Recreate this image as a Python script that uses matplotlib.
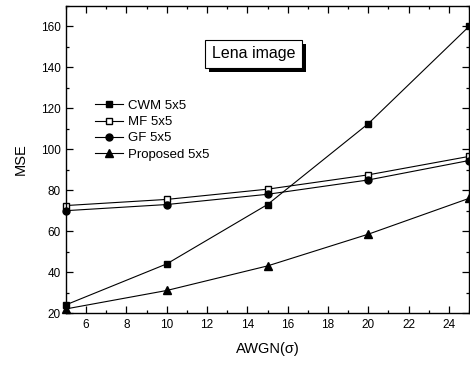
import matplotlib.pyplot as plt
from matplotlib.ticker import MultipleLocator
import matplotlib.patheffects as pe

plt.rcParams['font.family'] = ['Liberation Sans', 'DejaVu Sans']

# 데이터
sigma = [5, 10, 15, 20, 25]
cwm = [24, 44, 73, 112.5, 160]
mf = [72.5, 75.5, 80.5, 87.5, 96.5]
gf = [70, 73, 78, 85, 94.5]
proposed = [22, 31, 43, 58.5, 76]

fig = plt.figure(figsize=(4.7, 3.65), dpi=100)
ax = fig.add_axes([66/470, 1-313/365, (469-66)/470, (313-6)/365])

ax.plot(sigma, cwm, color='black', lw=0.8, marker='s', ms=5, mfc='black', label='CWM 5x5', clip_on=False)
ax.plot(sigma, mf, color='black', lw=0.8, marker='s', ms=5, mfc='white', label='MF 5x5', clip_on=False)
ax.plot(sigma, gf, color='black', lw=0.8, marker='o', ms=5, mfc='black', label='GF 5x5', clip_on=False)
ax.plot(sigma, proposed, color='black', lw=0.8, marker='^', ms=5.5, mfc='black', label='Proposed 5x5', clip_on=False)

ax.set_xlim(5, 25)
ax.set_ylim(20, 170)
ax.xaxis.set_major_locator(MultipleLocator(2))
ax.xaxis.set_minor_locator(MultipleLocator(1))
ax.yaxis.set_major_locator(MultipleLocator(20))
ax.yaxis.set_minor_locator(MultipleLocator(10))
ax.tick_params(which='both', direction='in', top=True, right=True, labelsize=8.5, width=0.9, pad=4)
ax.tick_params(which='major', length=5)
ax.tick_params(which='minor', length=2.5)
ax.set_xticks([6, 8, 10, 12, 14, 16, 18, 20, 22, 24])
ax.set_yticks([20, 40, 60, 80, 100, 120, 140, 160])
for s in ax.spines.values():
    s.set_linewidth(1.0)

ax.set_xlabel('AWGN(σ)', fontsize=10.5, labelpad=8)
ax.set_ylabel('MSE', fontsize=10.5, labelpad=9)

ax.legend(loc='upper left', bbox_to_anchor=(0.06, 0.712), frameon=False, fontsize=9.5,
          handlelength=2.1, handletextpad=0.4, labelspacing=0.3, borderaxespad=0)

ax.text(0.465, 0.844, 'Lena image', transform=ax.transAxes, ha='center', va='center', fontsize=11.5,
        bbox=dict(boxstyle='square,pad=0.4', fc='white', ec='black', lw=0.8,
                  path_effects=[pe.SimplePatchShadow(offset=(3, -3), shadow_rgbFace='black', alpha=1), pe.Normal()]))

plt.savefig('out.png', dpi=100)
